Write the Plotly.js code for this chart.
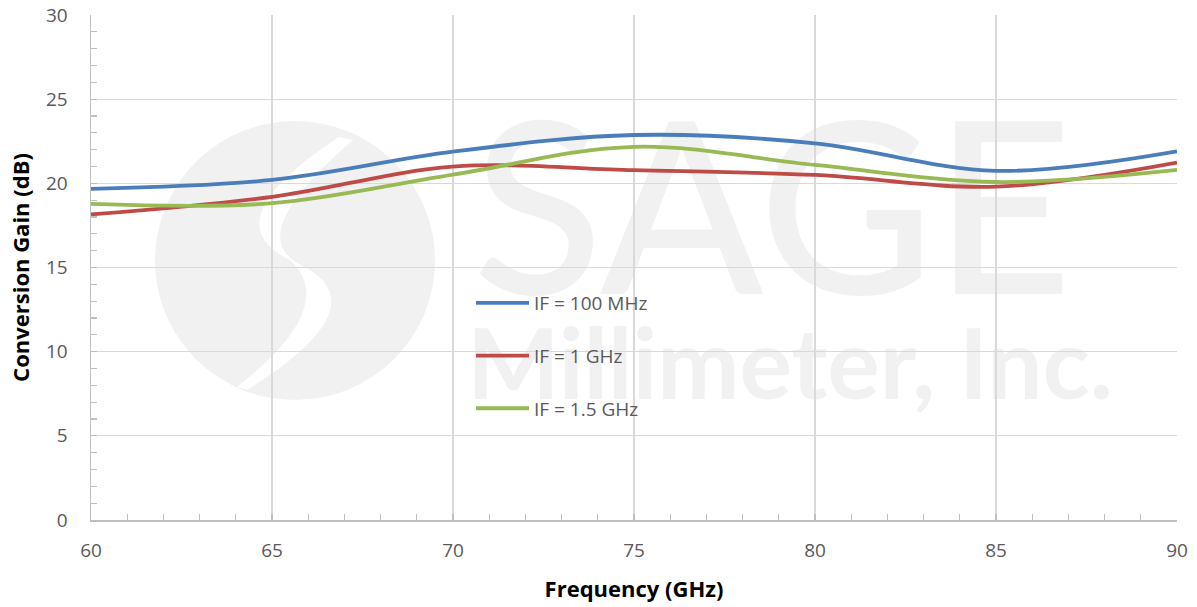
<!DOCTYPE html>
<html>
<head>
<meta charset="utf-8">
<script src="https://cdn.plot.ly/plotly-3.0.1.min.js"></script>
<style>
  html, body { margin: 0; padding: 0; background: #fff; }
  #plot { width: 1197px; height: 607px; }
</style>
</head>
<body>
<div id="plot"></div>
<script>
// ---- data ----
const frequencyGHz = [60, 65, 70, 75, 80, 85, 90];
const gainIF100MHz = [19.67, 20.20, 21.88, 22.87, 22.38, 20.74, 21.90];
const gainIF1GHz   = [18.15, 19.20, 20.99, 20.78, 20.50, 19.80, 21.23];
const gainIF15GHz  = [18.78, 18.82, 20.52, 22.17, 21.09, 20.08, 20.80];
const seriesNames  = ['IF = 100 MHz', 'IF = 1 GHz', 'IF = 1.5 GHz'];
const xTitle = 'Frequency (GHz)';
const yTitle = 'Conversion Gain (dB)';
const watermarkTop = 'SAGE';
const watermarkBottom = 'Millimeter, Inc.';

// ---- layout geometry ----
const W = 1197, H = 607;
const M = { l: 91, r: 20, t: 15, b: 87 };
const PW = W - M.l - M.r, PH = H - M.t - M.b;
const px = x => (x - M.l) / PW;          // pixel -> paper x
const py = y => (H - M.b - y) / PH;       // pixel -> paper y
const FONT = '"Open Sans", Lato, sans-serif';
const WMFONT = 'Lato, "Open Sans", sans-serif';
const WM = '#f1f1f1';

function pathFromPixels(cmds) {
  return cmds.map(c => c[0] + ' ' + c.slice(1).map((v, i) => (i % 2 === 0 ? px(v) : py(v)).toFixed(5)).join(',')).join(' ') + ' Z';
}

const colors = ['#4A7EBB', '#BE4B48', '#98B954'];
const ys = [gainIF100MHz, gainIF1GHz, gainIF15GHz];
const traces = ys.map((y, i) => ({
  type: 'scatter', mode: 'lines',
  x: frequencyGHz, y: y, name: seriesNames[i],
  legendgroup: 'g' + i,
  line: { color: colors[i], width: 3.8, shape: 'spline', smoothing: 1 }
}));

const swoosh = pathFromPixels([
  ['M', 339, 137],
  ['Q', 210, 221.5, 290, 260],
  ['Q', 340, 306.5, 237, 387],
  ['L', 247, 390],
  ['Q', 385, 303.5, 297, 263],
  ['Q', 245, 232.5, 353, 140]
]);

const layout = {
  width: W, height: H,
  margin: M,
  paper_bgcolor: '#ffffff', plot_bgcolor: '#ffffff',
  font: { family: FONT, size: 18, color: '#595959' },
  showlegend: true,
  legend: {
    x: px(471), y: py(284), xanchor: 'left', yanchor: 'top',
    bgcolor: 'rgba(0,0,0,0)', borderwidth: 0,
    font: { family: FONT, size: 19, color: '#595959' },
    traceorder: 'grouped', tracegroupgap: 25, itemwidth: 53
  },
  xaxis: {
    range: [60, 90], tick0: 60, dtick: 5, autorange: false,
    showgrid: true, gridcolor: '#d9d9d9', gridwidth: 1.3,
    showline: true, linecolor: '#bfbfbf', linewidth: 1.5,
    zeroline: false,
    ticks: 'inside', ticklen: 6, tickcolor: '#bfbfbf', tickwidth: 1.3,
    minor: { dtick: 1, ticks: 'inside', ticklen: 6, tickcolor: '#bfbfbf', tickwidth: 1.3, showgrid: false },
    tickfont: { family: FONT, size: 19, color: '#595959' },
    ticklabelstandoff: 13,
    automargin: false,
    title: { text: '<b>' + xTitle + '</b>', font: { family: FONT, size: 22, color: '#000' }, standoff: 19 }
  },
  yaxis: {
    range: [0, 30], tick0: 0, dtick: 5, autorange: false,
    showgrid: true, gridcolor: '#d9d9d9', gridwidth: 1.3,
    showline: true, linecolor: '#bfbfbf', linewidth: 1.5,
    zeroline: false,
    ticks: 'inside', ticklen: 6, tickcolor: '#bfbfbf', tickwidth: 1.3,
    minor: { dtick: 1, ticks: 'inside', ticklen: 6, tickcolor: '#bfbfbf', tickwidth: 1.3, showgrid: false },
    tickfont: { family: FONT, size: 19, color: '#595959' },
    ticklabelstandoff: 18,
    automargin: false,
    title: { text: '<b>' + yTitle + '</b>', font: { family: FONT, size: 22, color: '#000' }, standoff: 10 }
  },
  shapes: [
    { type: 'circle', layer: 'below', xref: 'paper', yref: 'paper',
      x0: px(155), x1: px(435), y0: py(400), y1: py(121),
      fillcolor: WM, line: { width: 0 } },
    { type: 'path', layer: 'below', xref: 'paper', yref: 'paper',
      path: swoosh, fillcolor: '#ffffff', line: { width: 0 } },
    { type: 'rect', layer: 'below', xref: 'paper', yref: 'paper',
      x0: px(460), x1: px(1085), y0: py(292), y1: py(104),
      line: { width: 0 }, fillcolor: 'rgba(0,0,0,0)',
      label: { text: watermarkTop, textposition: 'middle center',
               font: { family: WMFONT, size: 240, color: WM, weight: 500 } } },
    { type: 'rect', layer: 'below', xref: 'paper', yref: 'paper',
      x0: px(460), x1: px(1120), y0: py(403), y1: py(316),
      line: { width: 0 }, fillcolor: 'rgba(0,0,0,0)',
      label: { text: watermarkBottom, textposition: 'middle center',
               font: { family: WMFONT, size: 98, color: WM, weight: 'bold' } } }
  ]
};

Plotly.newPlot('plot', traces, layout, { staticPlot: true, displayModeBar: false });
</script>
</body>
</html>
